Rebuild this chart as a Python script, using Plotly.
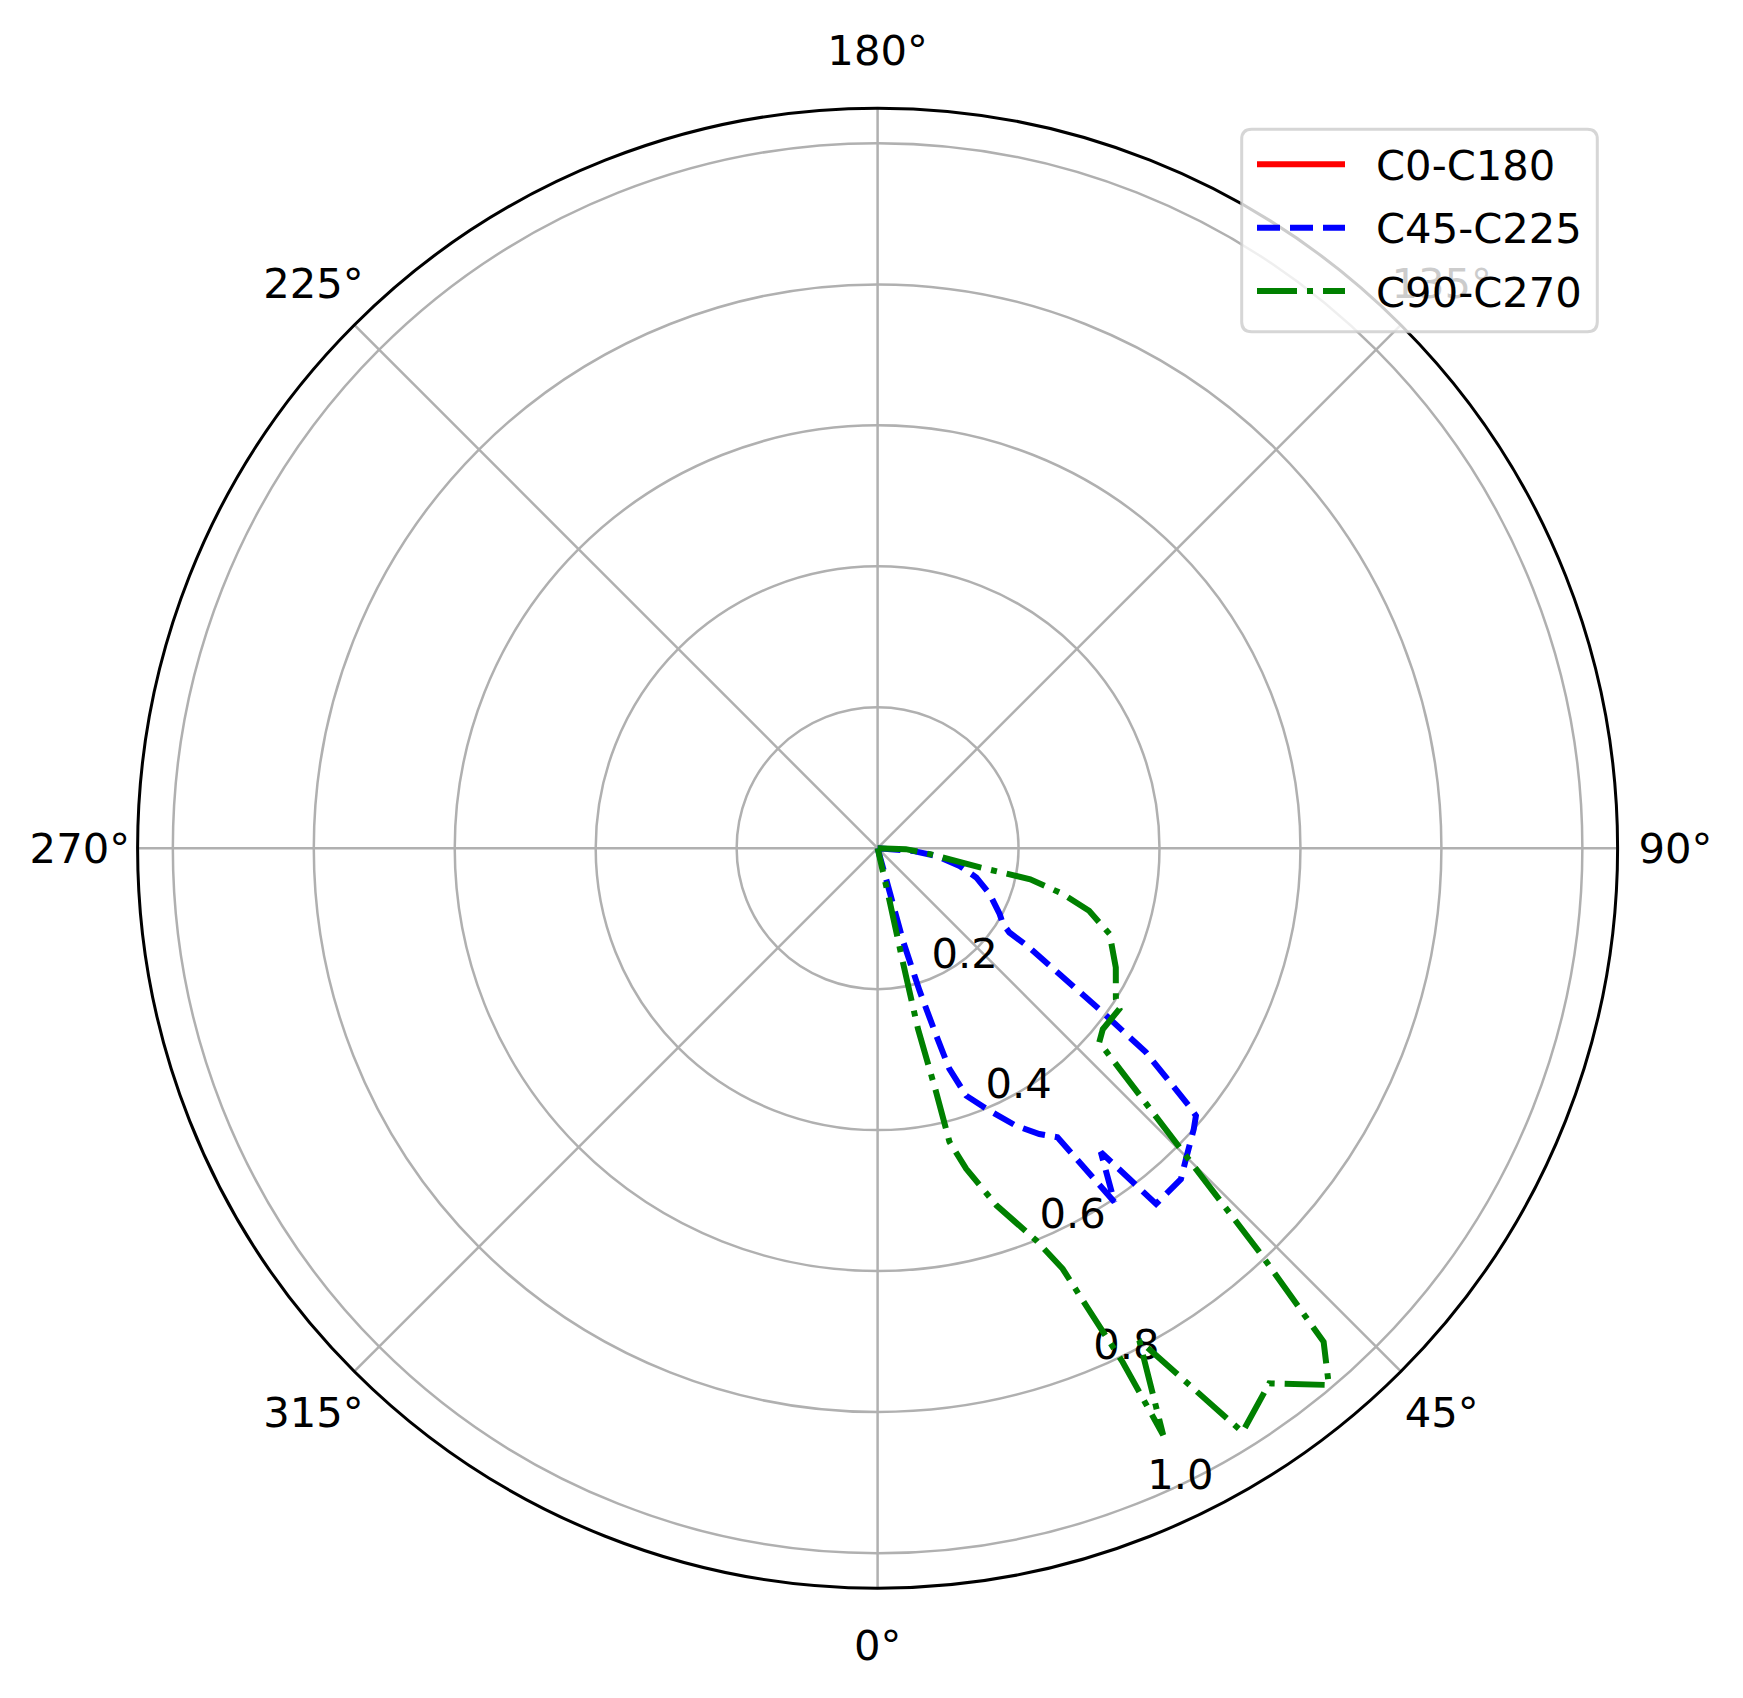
import plotly.graph_objects as go

# ---- data (angle in degrees, normalized intensity) ----
c0_theta = [0, 90]
c0_r = [0.0, 0.0]

c45_theta = [90, 85.6, 82.5, 77.8, 73.5, 67.7, 61.6, 58.8, 57.4, 56.8, 54.0, 53.3, 52.75,
             50.4, 49.96, 48.4, 44.8, 42.5, 38.05, 36.3, 33.8, 31.9, 29.5, 26.5, 23.1,
             19.7, 18.0, 17.4, 16.4, 15.3, 15.4, 15.0]
c45_r = [0.0, 0.050, 0.084, 0.119, 0.146, 0.172, 0.197, 0.208, 0.222, 0.257, 0.389, 0.434, 0.478,
         0.573, 0.590, 0.600, 0.621, 0.637, 0.641, 0.535, 0.604, 0.483, 0.466, 0.440, 0.405,
         0.373, 0.329, 0.279, 0.211, 0.136, 0.068, 0.0]

c90_theta = [90, 88.0, 83.5, 79.4, 78.5, 76.1, 73.5, 69.7, 63.4, 57.7, 56.4, 51.2, 48.8,
             45.26, 43.4, 42.1, 40.05, 36.2, 32.0, 28.0, 25.95, 25.5, 24.5, 23.75, 22.0,
             18.4, 15.45, 13.75, 13.5, 12.6, 12.5, 12.8, 12.8]
c90_r = [0.0, 0.040, 0.075, 0.148, 0.221, 0.271, 0.313, 0.351, 0.378, 0.400, 0.412, 0.410, 0.418,
         0.603, 0.788, 0.944, 0.995, 0.941, 0.977, 0.791, 0.926, 0.808, 0.713, 0.652, 0.600,
         0.534, 0.472, 0.429, 0.356, 0.263, 0.166, 0.077, 0.0]

series_names = ["C0-C180", "C45-C225", "C90-C270"]
angle_ticks = [0, 45, 90, 135, 180, 225, 270, 315]
angle_labels = [f"{a}°" for a in angle_ticks]
radial_ticks = [0.2, 0.4, 0.6, 0.8, 1.0]
radial_labels = ["0.2", "0.4", "0.6", "0.8", "1.0"]

FONT = "DejaVu Sans"
FS = 41.7
LW = 6
R_MAX = 1.05
R_MAX_LABELS = 1.2       # wider, invisible polar used only to place the angle labels
RLABEL_ANGLE = 22.5      # matplotlib default radial-label position
THETA_LABEL_R = 1.132    # angular labels sit just outside the outer ring

styles = [dict(color="red", width=LW, dash="solid"),
          dict(color="blue", width=LW, dash="23px,10px"),
          dict(color="green", width=LW, dash="40px,10px,6px,10px")]

fig = go.Figure()

# radial tick labels (matplotlib-like placement: left/bottom aligned at 22.5°)
fig.add_trace(go.Scatterpolar(
    theta=[RLABEL_ANGLE] * len(radial_ticks), r=radial_ticks, mode="text",
    text=radial_labels, textposition="top right", cliponaxis=False,
    textfont=dict(family=FONT, size=FS, color="black"), hoverinfo="skip", showlegend=False))

for name, th, rr, st in zip(series_names, [c0_theta, c45_theta, c90_theta],
                            [c0_r, c45_r, c90_r], styles):
    fig.add_trace(go.Scatterpolar(theta=th, r=rr, mode="lines", name=name,
                                  line=st, showlegend=False, hoverinfo="skip"))

# angular tick labels, centred at a fixed radius outside the ring
fig.add_trace(go.Scatterpolar(
    theta=angle_ticks, r=[THETA_LABEL_R] * len(angle_ticks), mode="text",
    text=angle_labels, textposition="middle center", cliponaxis=False, subplot="polar2",
    textfont=dict(family=FONT, size=FS, color="black"), hoverinfo="skip", showlegend=False))

W, H = 1743, 1698
cx, cy, R = 877.6, 848.2, 740.0
R2 = R * R_MAX_LABELS / R_MAX
cy2 = cy + 4  # small baseline correction for centred text

# ---- legend box drawn as shapes + annotations (matplotlib-like) ----
def px(x):
    return x / W

def py(y):
    return 1 - y / H

bx0, by0, bx1, by1, rad = 1241.7, 129.3, 1597.3, 331.7, 10
path = (f"M{px(bx0+rad)},{py(by0)} L{px(bx1-rad)},{py(by0)} "
        f"Q{px(bx1)},{py(by0)} {px(bx1)},{py(by0+rad)} L{px(bx1)},{py(by1-rad)} "
        f"Q{px(bx1)},{py(by1)} {px(bx1-rad)},{py(by1)} L{px(bx0+rad)},{py(by1)} "
        f"Q{px(bx0)},{py(by1)} {px(bx0)},{py(by1-rad)} L{px(bx0)},{py(by0+rad)} "
        f"Q{px(bx0)},{py(by0)} {px(bx0+rad)},{py(by0)} Z")
shapes = [dict(type="path", xref="paper", yref="paper", path=path, layer="above",
               fillcolor="rgba(255,255,255,0.8)", line=dict(color="rgba(204,204,204,0.8)", width=3))]
annotations = []
row_y = [164.3, 227.7, 291.0]
for name, st, yy in zip(series_names, styles, row_y):
    shapes.append(dict(type="line", xref="paper", yref="paper", layer="above",
                       x0=px(1257), x1=px(1345), y0=py(yy), y1=py(yy),
                       line=dict(color=st["color"], width=LW, dash=st["dash"])))
    annotations.append(dict(xref="paper", yref="paper", x=px(1374), y=py(yy + 1),
                            xanchor="left", yanchor="middle", text=name, showarrow=False,
                            font=dict(family=FONT, size=FS, color="black")))

fig.update_layout(
    width=W, height=H,
    margin=dict(l=0, r=0, t=0, b=0),
    paper_bgcolor="white",
    font=dict(family=FONT, size=FS, color="black"),
    showlegend=False,
    hovermode=False,
    shapes=shapes,
    annotations=annotations,
    polar=dict(
        domain=dict(x=[(cx - R) / W, (cx + R) / W], y=[1 - (cy + R) / H, 1 - (cy - R) / H]),
        bgcolor="white",
        angularaxis=dict(
            rotation=270, direction="counterclockwise",
            tickmode="array", tickvals=angle_ticks, ticktext=angle_labels,
            showticklabels=False, ticks="",
            showgrid=True, gridcolor="#b0b0b0", gridwidth=2.5,
            showline=True, linecolor="black", linewidth=3,
        ),
        radialaxis=dict(
            range=[0, R_MAX], angle=-67.5,
            tickmode="array", tickvals=radial_ticks, ticktext=radial_labels,
            showticklabels=False, ticks="",
            showgrid=True, gridcolor="#b0b0b0", gridwidth=2.5,
            showline=False,
        ),
    ),
    polar2=dict(
        domain=dict(x=[(cx - R2) / W, (cx + R2) / W], y=[1 - (cy2 + R2) / H, 1 - (cy2 - R2) / H]),
        bgcolor="rgba(0,0,0,0)",
        angularaxis=dict(rotation=270, direction="counterclockwise", visible=False),
        radialaxis=dict(range=[0, R_MAX_LABELS], visible=False),
    ),
)

fig.write_html("out.html", config={"displayModeBar": False, "staticPlot": True},
               post_script="document.body.style.margin='0px';")
